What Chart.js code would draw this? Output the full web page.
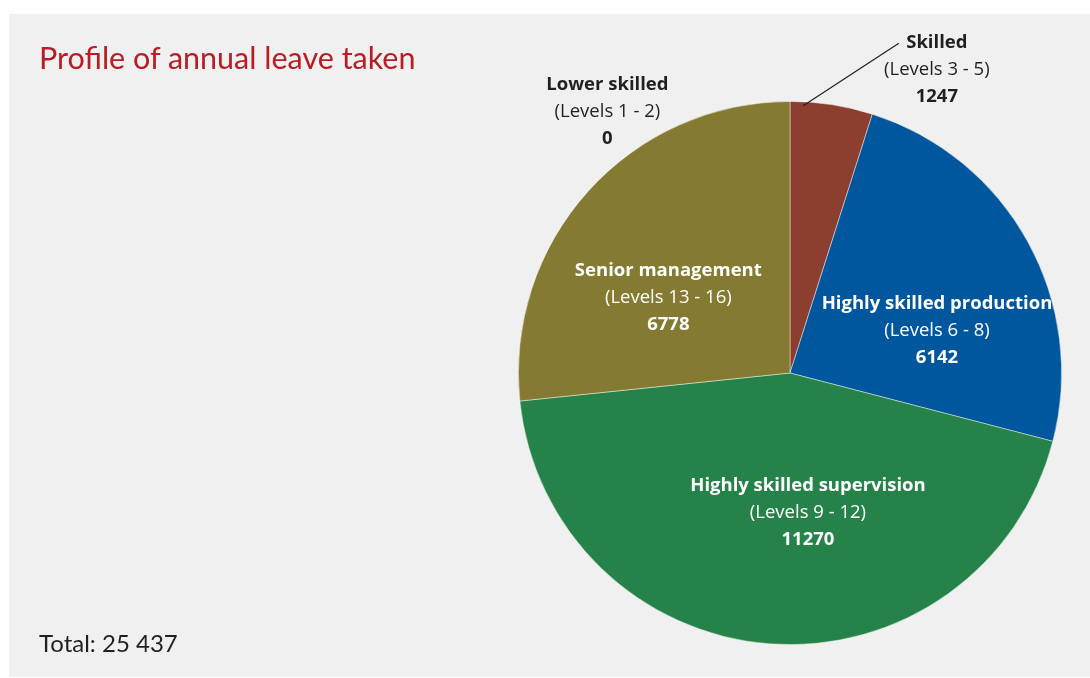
<!DOCTYPE html>
<html>
<head>
<meta charset="utf-8">
<script src="https://cdn.jsdelivr.net/npm/chart.js@4"></script>
<style>
  html, body { margin: 0; padding: 0; background: #ffffff; }
  #wrap { position: relative; width: 1090px; height: 678px; overflow: hidden; }
  #panel { position: absolute; left: 9px; top: 14px; right: 0; bottom: 1px; background: #f0f0f0; }
  #c { position: absolute; left: 0; top: 0; }
  #title { position: absolute; left: 39px; top: 39px; font-family: Lato, "Open Sans", sans-serif; font-size: 30.5px; color: #b81c24; white-space: nowrap; }
  #total { position: absolute; left: 39px; top: 628px; font-family: Lato, "Open Sans", sans-serif; font-size: 24px; color: #231f20; white-space: nowrap; }
</style>
</head>
<body>
<div id="wrap">
  <div id="panel"></div>
  <canvas id="c" width="1090" height="678"></canvas>
  <div id="title">Profile of annual leave taken</div>
  <div id="total">Total: 25 437</div>
</div>
<script>
const categories = ["Lower skilled", "Skilled", "Highly skilled production", "Highly skilled supervision", "Senior management"];
const levels = ["(Levels 1 - 2)", "(Levels 3 - 5)", "(Levels 6 - 8)", "(Levels 9 - 12)", "(Levels 13 - 16)"];
const values = [0, 1247, 6142, 11270, 6778];
const colors = ["#6a6a6a", "#8c3f2e", "#00579d", "#258349", "#857a32"];

// label placement: angle (deg clockwise from 12 o'clock), distance as fraction of radius
const placement = [
  { angle: 325.1, dist: 1.175, color: "#231f20", leader: false },
  { angle: 25.8, dist: 1.242, color: "#231f20", leader: true },
  { angle: 74, dist: 0.563, color: "#ffffff", leader: false },
  { angle: 172.7, dist: 0.52, color: "#ffffff", leader: false },
  { angle: 301.6, dist: 0.526, color: "#ffffff", leader: false }
];

const FONT = "'Open Sans', Lato, sans-serif";

const labelPlugin = {
  id: "sliceLabels",
  afterDatasetsDraw(chart) {
    const ctx = chart.ctx;
    const meta = chart.getDatasetMeta(0);
    const ds = chart.data.datasets[0];
    meta.data.forEach((arc, i) => {
      const p = placement[i];
      const { x, y, outerRadius } = arc.getProps(["x", "y", "outerRadius"], true);
      const a = p.angle * Math.PI / 180;
      const lx = x + Math.sin(a) * outerRadius * p.dist;
      const ly = y - Math.cos(a) * outerRadius * p.dist;
      ctx.save();
      if (p.leader) {
        const { startAngle, endAngle } = arc.getProps(["startAngle", "endAngle"], true);
        const la = startAngle + (endAngle - startAngle) * 0.16;
        const r0 = outerRadius * 0.985;
        ctx.beginPath();
        ctx.moveTo(x + Math.cos(la) * r0, y + Math.sin(la) * r0);
        ctx.lineTo(lx - 38, ly - 26);
        ctx.strokeStyle = "#231f20";
        ctx.lineWidth = 1.2;
        ctx.stroke();
      }
      ctx.fillStyle = p.color;
      ctx.textAlign = "center";
      ctx.textBaseline = "middle";
      ctx.font = "bold 18.5px " + FONT;
      ctx.fillText(chart.data.labels[i], lx, ly - 27);
      ctx.font = "18.5px " + FONT;
      ctx.fillText(levels[i], lx, ly);
      ctx.font = "bold 18.5px " + FONT;
      ctx.fillText(String(ds.data[i]), lx, ly + 27);
      ctx.restore();
    });
  }
};

new Chart(document.getElementById("c"), {
  type: "pie",
  data: {
    labels: categories,
    datasets: [{
      data: values,
      backgroundColor: colors,
      borderColor: "rgba(255,255,255,0.55)",
      borderWidth: (c) => (c.raw === 0 ? 0 : 0.8)
    }]
  },
  options: {
    responsive: false,
    animation: false,
    layout: { padding: { left: 518, right: 28, top: 101, bottom: 33 } },
    plugins: {
      legend: { display: false },
      tooltip: { enabled: false },
      title: { display: false }
    }
  },
  plugins: [labelPlugin]
});
</script>
</body>
</html>
